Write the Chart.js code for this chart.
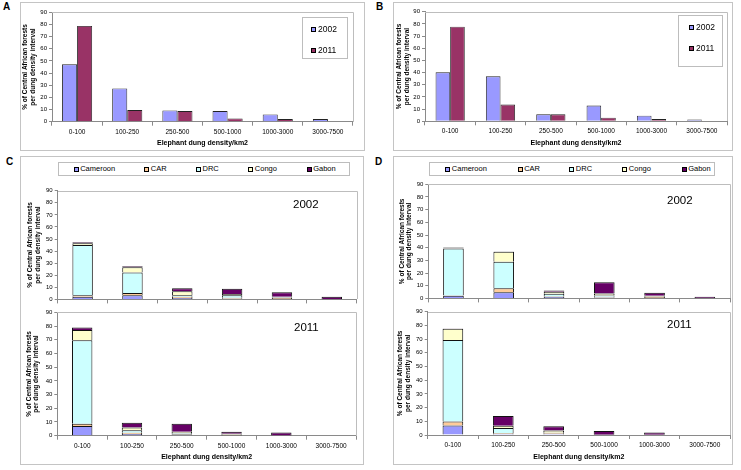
<!DOCTYPE html>
<html><head><meta charset="utf-8">
<script src="https://cdn.jsdelivr.net/npm/chart.js@4.4.1/dist/chart.umd.min.js"></script>
<style>
body{margin:0;width:741px;height:470px;background:#fff;position:relative;overflow:hidden;font-family:'Liberation Sans',Arial,sans-serif;color:#000;}
.box{position:absolute;border:1px solid #c4c4c4;box-sizing:border-box;}
canvas{position:absolute;}
.plbl{position:absolute;font-weight:bold;font-size:10px;line-height:10px;}
.t{position:absolute;white-space:nowrap;}
.sw{position:absolute;border:1px solid #000;box-sizing:border-box;}
.yr{position:absolute;font-size:11.5px;line-height:12px;}
</style></head><body>
<div class="box" style="left:20px;top:2px;width:345px;height:149px"></div>
<div class="box" style="left:393px;top:2px;width:340px;height:149px"></div>
<div class="box" style="left:20px;top:156px;width:344px;height:309px"></div>
<div class="box" style="left:393px;top:156px;width:340px;height:309px"></div>
<div class="plbl" style="left:3px;top:2px">A</div>
<div class="plbl" style="left:376px;top:2px">B</div>
<div class="plbl" style="left:6px;top:157px">C</div>
<div class="plbl" style="left:375px;top:157px">D</div>
<script>
const categories = ['0-100','100-250','250-500','500-1000','1000-3000','3000-7500'];
const years = ['2002','2011'];
const countries = ['Cameroon','CAR','DRC','Congo','Gabon'];

// Panel A
const A2002 = [47.2, 27.4, 9.3, 8.8, 6.0, 2.2];
const A2011 = [78.8, 9.6, 8.8, 2.7, 2.2, 0];
// Panel B
const B2002 = [40.2, 36.9, 5.7, 12.9, 4.6, 1.4];
const B2011 = [77.7, 13.7, 5.7, 3.0, 1.9, 0];

// Panel C 2002
const C2002_Cameroon = [2.2, 3.5, 1.2, 0.5, 0.3, 0];
const C2002_CAR      = [1.3, 1.9, 1.0, 0.8, 0.9, 0.2];
const C2002_DRC      = [41.6, 16.8, 1.3, 2.2, 0.3, 0];
const C2002_Congo    = [1.3, 4.5, 3.3, 0.9, 0.7, 0];
const C2002_Gabon    = [1.0, 0.8, 2.5, 4.4, 3.8, 1.9];
// Panel C 2011
const C2011_Cameroon = [7.1, 1.3, 0.8, 0.2, 0, 0];
const C2011_CAR      = [1.7, 0.8, 0.5, 0.3, 0.2, 0];
const C2011_DRC      = [60.8, 1.8, 0.5, 0.2, 0, 0];
const C2011_Congo    = [7.5, 2.0, 1.0, 0.7, 0, 0];
const C2011_Gabon    = [1.9, 3.6, 6.0, 1.5, 2.2, 0];
// Panel D 2002
const D2002_Cameroon = [2.0, 4.9, 1.2, 0.8, 0.3, 0.1];
const D2002_CAR      = [0.2, 3.2, 0.3, 0.5, 1.0, 0];
const D2002_DRC      = [37.2, 20.8, 2.2, 1.0, 0.1, 0];
const D2002_Congo    = [0.2, 7.8, 1.5, 1.6, 0.7, 0];
const D2002_Gabon    = [0.5, 0.3, 1.0, 8.8, 2.3, 1.2];
// Panel D 2011
const D2011_Cameroon = [7.0, 1.0, 1.0, 0.2, 0, 0];
const D2011_CAR      = [2.8, 0.5, 0.4, 0, 0.2, 0];
const D2011_DRC      = [59.5, 3.6, 0.3, 0, 0, 0];
const D2011_Congo    = [8.3, 1.7, 1.5, 0, 0, 0];
const D2011_Gabon    = [0.2, 7.1, 3.1, 2.7, 1.7, 0];

const yTicks = [0,10,20,30,40,50,60,70,80,90];
const yTitle = ['% of Central African forests','per dung density interval'];
const xTitle = 'Elephant dung density/km2';

const yearColors = ['#9999FF','#993366'];
const countryColors = ['#9999FF','#FFCC99','#CCFFFF','#FFFFCC','#660066'];

const FONT = "'Liberation Sans', Arial, sans-serif";

const frame = {id:'frame', beforeDatasetsDraw(c){
  const a=c.chartArea, ctx=c.ctx;
  ctx.save(); ctx.strokeStyle='#bdbdbd'; ctx.lineWidth=1;
  ctx.beginPath();
  ctx.moveTo(Math.round(a.left), Math.round(a.top)+0.5);
  ctx.lineTo(Math.round(a.right)+0.5, Math.round(a.top)+0.5);
  ctx.lineTo(Math.round(a.right)+0.5, Math.round(a.bottom));
  ctx.stroke(); ctx.restore();
}};

function build(rect, plot, datasets, o){
  const cv = document.createElement('canvas');
  cv.width = rect.w; cv.height = rect.h;
  cv.style.left = rect.x+'px'; cv.style.top = rect.y+'px';
  cv.style.width = rect.w+'px'; cv.style.height = rect.h+'px';
  document.body.appendChild(cv);
  const yW = plot.l - rect.x;
  const xH = rect.y + rect.h - plot.b;
  new Chart(cv, {
    type:'bar',
    data:{labels:categories, datasets},
    options:{
      responsive:false, animation:false, devicePixelRatio:1,
      categoryPercentage:o.cat, barPercentage:1,
      layout:{padding:{left:0, right:rect.x+rect.w-plot.r, top:plot.t-rect.y, bottom:0}},
      plugins:{legend:{display:false}, tooltip:{enabled:false}},
      scales:{
        x:{stacked:o.stacked,
          grid:{offset:true, drawOnChartArea:false, drawTicks:true, tickLength:4, color:'#8a8a8a'},
          border:{color:'#8a8a8a'},
          ticks:{display:o.xlabels, font:{family:FONT,size:6.5}, color:'#000', padding:2.5, maxRotation:0, autoSkip:false},
          title:{display:o.xlabels, text:xTitle, font:{family:FONT,size:7,weight:'bold'}, color:'#000', padding:{top:0,bottom:o.xtp||3}},
          afterFit:(s)=>{s.height=xH;}},
        y:{stacked:o.stacked, min:0, max:90,
          afterBuildTicks:(s)=>{s.ticks=yTicks.map(v=>({value:v}));},
          ticks:{font:{family:FONT,size:6}, color:'#000', padding:2},
          grid:{drawOnChartArea:false, tickLength:3, color:'#8a8a8a'},
          border:{color:'#8a8a8a'},
          title:{display:true, text:yTitle, font:{family:FONT,size:6.5,weight:'bold',lineHeight:1.1}, color:'#000', padding:{top:o.ytp,bottom:0}},
          afterFit:(s)=>{s.width=yW;}}
      }
    },
    plugins:[frame]
  });
}

function grouped(v1, v2){
  return [
    {label:years[0], data:v1, backgroundColor:yearColors[0], borderColor:'#222', borderWidth:0.9},
    {label:years[1], data:v2, backgroundColor:yearColors[1], borderColor:'#222', borderWidth:0.9}
  ];
}
function stacked(arrs){
  return arrs.map((d,i)=>({label:countries[i], data:d, backgroundColor:countryColors[i], borderColor:'#111', borderWidth:1}));
}

build({x:20,y:4,w:345,h:147},{l:52,r:353,t:12.3,b:121.7}, grouped(A2002,A2011), {cat:0.6, stacked:false, xlabels:true, ytp:2, xtp:4});
build({x:393,y:4,w:340,h:147},{l:425,r:727,t:11.7,b:121.3}, grouped(B2002,B2011), {cat:0.58, stacked:false, xlabels:true, ytp:3, xtp:4});

build({x:20,y:180,w:343,h:125},{l:57.7,r:356.7,t:190.7,b:301}, stacked([C2002_Cameroon,C2002_CAR,C2002_DRC,C2002_Congo,C2002_Gabon]), {cat:0.41, stacked:true, xlabels:false, ytp:7});
build({x:20,y:306,w:343,h:158},{l:57.3,r:356,t:312.3,b:435.7}, stacked([C2011_Cameroon,C2011_CAR,C2011_DRC,C2011_Congo,C2011_Gabon]), {cat:0.41, stacked:true, xlabels:true, ytp:5.5, xtp:3});

build({x:393,y:178,w:340,h:126},{l:428.3,r:730,t:184.3,b:299.7}, stacked([D2002_Cameroon,D2002_CAR,D2002_DRC,D2002_Congo,D2002_Gabon]), {cat:0.41, stacked:true, xlabels:false, ytp:5.2});
build({x:393,y:305,w:340,h:159},{l:427.7,r:730,t:311.7,b:435}, stacked([D2011_Cameroon,D2011_CAR,D2011_DRC,D2011_Congo,D2011_Gabon]), {cat:0.41, stacked:true, xlabels:true, ytp:4, xtp:3});

// legends (HTML)
function el(cls, style, text){const d=document.createElement('div');d.className=cls;d.setAttribute('style',style);if(text!==undefined)d.textContent=text;document.body.appendChild(d);return d;}
// A legend
el('box','left:302px;top:17px;width:46px;height:42px;border-color:#bdbdbd');
[[26.5,0],[47.5,1]].forEach(([y,i])=>{
  el('sw',`left:311px;top:${y}px;width:5px;height:5px;background:${yearColors[i]}`);
  el('t',`left:318px;top:${y-2.5}px;font-size:8.5px;line-height:10px`, years[i]);
});
// B legend
el('box','left:678px;top:15px;width:45px;height:52px;border-color:#bdbdbd');
[[24.5,0],[45.5,1]].forEach(([y,i])=>{
  el('sw',`left:689px;top:${y}px;width:5px;height:5px;background:${yearColors[i]}`);
  el('t',`left:696px;top:${y-2.5}px;font-size:8.5px;line-height:10px`, years[i]);
});
// C legend
el('box','left:58px;top:162px;width:292px;height:14px;border-color:#bdbdbd');
[73.7,144.3,196,248.3,306.7].forEach((x,i)=>{
  el('sw',`left:${x}px;top:166.5px;width:5px;height:5px;background:${countryColors[i]}`);
  el('t',`left:${x+6.5}px;top:164px;font-size:7.5px;line-height:10px`, countries[i]);
});
// D legend
el('box','left:429px;top:162px;width:286px;height:14px;border-color:#bdbdbd');
[445.3,517.7,569.3,622.3,681.7].forEach((x,i)=>{
  el('sw',`left:${x}px;top:166.5px;width:5px;height:5px;background:${countryColors[i]}`);
  el('t',`left:${x+6.5}px;top:164px;font-size:7.5px;line-height:10px`, countries[i]);
});
// year labels inside stacked panels
el('yr','left:293px;top:198px', years[0]);
el('yr','left:294px;top:321px', years[1]);
el('yr','left:667px;top:194px', years[0]);
el('yr','left:667px;top:318px', years[1]);
</script>
</body></html>
